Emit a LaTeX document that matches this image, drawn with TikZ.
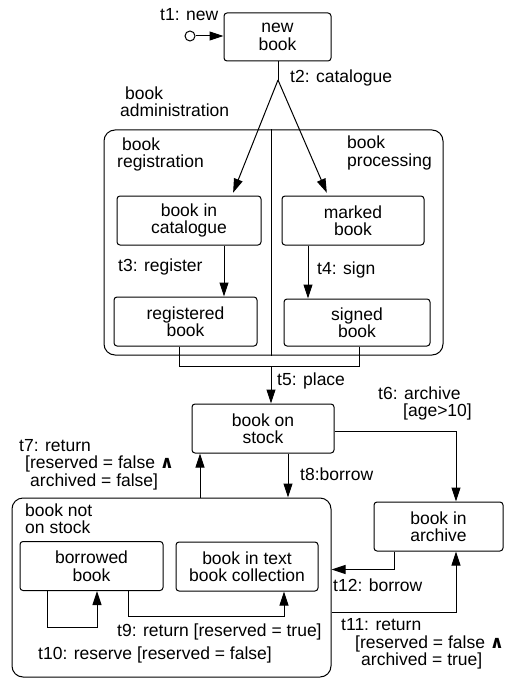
\documentclass[tikz,border=0pt]{standalone}
\usepackage{fontspec}
\setmainfont{Liberation Sans}
\newfontfamily\symf{DejaVu Sans}
\usetikzlibrary{arrows.meta}
\begin{document}
\begin{tikzpicture}[x=1pt,y=-1pt,
  every node/.style={font=\fontsize{17.5}{17.5}\selectfont, inner sep=0pt},
  statebox/.style={draw, rounded corners=3pt, align=center, line width=1pt},
  superbox/.style={draw, rounded corners=11pt, line width=1pt},
  lbl/.style={anchor=west, align=left},
  arr/.style={line width=1pt, -{Triangle[length=14pt,width=9pt]}},
  conn/.style={line width=1pt}]
\useasboundingbox (0,0) rectangle (505,679);

% composite states
\node[superbox, minimum width=339pt, minimum height=225pt] (adm) at (273.5,242.5) {};
\node[superbox, minimum width=319pt, minimum height=179pt] (notstock) at (171.5,587.5) {};

% simple states
\node[statebox, minimum width=107pt, minimum height=48pt] (new) at (277.5,37) {new\\book};
\node[statebox, minimum width=144pt, minimum height=49pt] (cat) at (189,220.5) {book in\\catalogue};
\node[statebox, minimum width=142pt, minimum height=49pt] (marked) at (353,220.5) {marked\\book};
\node[statebox, minimum width=143pt, minimum height=49pt] (reg) at (185.5,321.5) {registered\\book};
\node[statebox, minimum width=146pt, minimum height=47pt] (signed) at (357,322.5) {signed\\book};
\node[statebox, minimum width=142pt, minimum height=49pt] (stock) at (263,428.5) {book on\\stock};
\node[statebox, minimum width=129pt, minimum height=49pt] (archive) at (438.5,526.5) {book in\\archive};
\node[statebox, minimum width=143pt, minimum height=49pt] (borrowed) at (91.5,566) {borrowed\\book};
\node[statebox, minimum width=142pt, minimum height=49pt] (textbook) at (247,566.5) {book in text\\book collection};

% initial pseudostate
\node[circle, draw, line width=1pt, minimum size=10pt] (init) at (190,36) {};
\draw[arr] (init.east) -- (init.east -| new.west);

% t2 fork
\coordinate (fork) at (278,80);
\draw[conn] (new.south -| fork) -- (fork);
\draw[arr, shorten >=3pt] (fork) -- ([xshift=43pt]cat.north);
\draw[arr, shorten >=3pt] (fork) -- ([xshift=-25pt]marked.north);

% divider
\draw[conn] ([xshift=-2.5pt]adm.north) -- ([xshift=-2.5pt]adm.south);

% t3, t4
\draw[arr] ([xshift=35pt]cat.south) -- ([xshift=35pt]cat.south |- reg.north);
\draw[arr] ([xshift=-45pt]marked.south) -- ([xshift=-45pt]marked.south |- signed.north);

% join t5
\coordinate (j) at (271,366);
\draw[conn] ([xshift=-6.5pt]reg.south) |- ([xshift=2pt]signed.south |- j) -- ([xshift=2pt]signed.south);
\draw[arr] (j) -- (j |- stock.north);

% t6, t7, t8
\draw[arr] ([yshift=-2.5pt]stock.east) -| ([xshift=17.5pt]archive.north);
\draw[arr] ([xshift=25pt]stock.south) -- ([xshift=25pt]stock.south |- notstock.north);
\draw[arr] ([xshift=-63pt]stock.south |- notstock.north) -- ([xshift=-63pt]stock.south);

% t9, t10
\draw[arr] ([xshift=-44.5pt]borrowed.south) -- ++(0,36) -| ([xshift=5.5pt]borrowed.south);
\draw[arr] ([xshift=36.5pt]borrowed.south) -- ++(0,25) -| ([xshift=37pt]textbook.south);

% t11, t12
\draw[arr] ([xshift=-44.5pt]archive.south) -- ++(0,18) coordinate (c12) -- (c12 -| notstock.east);
\draw[arr] ([yshift=-24.5pt]notstock.east) -| ([xshift=17.5pt]archive.south);

% labels
\node[lbl] (l1) at (160,14.5) {t1: new};
\node[lbl] (l2) at (290,78) {t2: catalogue};
\node[lbl] (ladm) at (120,101.5) {\hspace{5pt}book\\administration};
\node[lbl] (lreg) at (117,154.5) {\hspace{5pt}book\\registration};
\node[lbl] (lproc) at (347,153) {book\\processing};
\node[lbl] (l3) at (118,267) {t3: register};
\node[lbl] (l4) at (317,270) {t4: sign};
\node[lbl] (l5) at (277,381) {t5: place};
\node[lbl] (l6) at (378,403.5) {t6: archive\\\hspace{25pt}[age>10]};
\node[lbl] (l7) at (19,464.5) {t7: return\\\hspace{6pt}[reserved = false {\symf\bfseries ∧}\\\hspace{11pt}archived = false]};
\node[lbl] (l8) at (300,474) {t8:borrow};
\node[lbl] (lnot) at (25,518.5) {book not\\on stock};
\node[lbl] (l9) at (117,632) {t9: return [reserved = true]};
\node[lbl] (l10) at (38,655) {t10: reserve [reserved = false]};
\node[lbl] (l11) at (341,644) {t11: return\\\hspace{14pt}[reserved = false {\symf\bfseries ∧}\\\hspace{20pt}archived = true]};
\node[lbl] (l12) at (333,585) {t12: borrow};
\end{tikzpicture}
\end{document}
